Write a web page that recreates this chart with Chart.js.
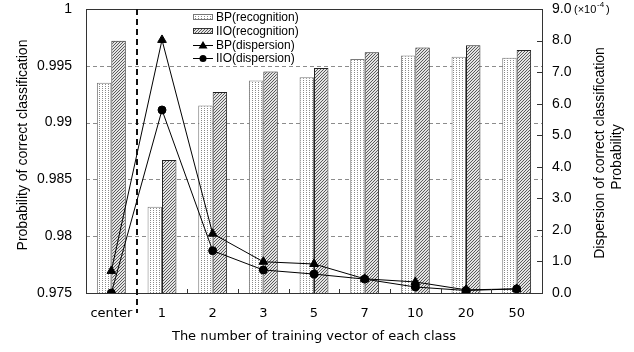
<!DOCTYPE html>
<html><head><meta charset="utf-8">
<script src="https://cdn.jsdelivr.net/npm/chart.js@4"></script>
<style>html,body{margin:0;padding:0;background:#fff;} canvas{display:block}</style>
</head><body>
<canvas id="c" width="634" height="352"></canvas>
<script>
const categories = ['center','1','2','3','5','7','10','20','50'];
const bpRecognition = [0.9935,0.9826,0.9915,0.9937,0.9940,0.9956,0.9959,0.9958,0.9957];
const iioRecognition = [0.9972,0.9867,0.9927,0.9945,0.9948,0.9962,0.9966,0.9968,0.9964];
const bpDispersion = [0.70,8.02,1.88,0.99,0.92,0.45,0.35,0.10,0.13];
const iioDispersion = [0.00,5.80,1.34,0.73,0.60,0.44,0.19,0.08,0.13];
const leftTickLabels = ['0.975','0.98','0.985','0.99','0.995','1'];
const rightTickLabels = ['0.0','1.0','2.0','3.0','4.0','5.0','6.0','7.0','8.0','9.0'];
const legendLabels = ['BP(recognition)','IIO(recognition)','BP(dispersion)','IIO(dispersion)'];
const xTitle = 'The number of training vector of each class';
const leftTitle = 'Probability of correct classification';
const rightTitle = ['Dispersion of correct classification','Probability'];

function makeDots(){
  const c=document.createElement('canvas'); c.width=3; c.height=2;
  const g=c.getContext('2d'); g.fillStyle='#fff'; g.fillRect(0,0,3,2);
  g.fillStyle='#8a8a8a'; g.fillRect(0,0,1,1);
  return g.createPattern(c,'repeat');
}
function makeHatch(){
  const c=document.createElement('canvas'); c.width=3; c.height=3;
  const g=c.getContext('2d'); g.fillStyle='#e4e4e4'; g.fillRect(0,0,3,3);
  g.fillStyle='#5a5a5a'; g.fillRect(0,2,1,1); g.fillRect(1,1,1,1); g.fillRect(2,0,1,1);
  return g.createPattern(c,'repeat');
}
const ctx0=document.getElementById('c').getContext('2d');
const dots=makeDots(), hatch=makeHatch();

const deco={
  id:'deco',
  beforeDatasetsDraw(chart){
    const {ctx,chartArea:a,scales}=chart; const y=scales.y;
    ctx.save(); ctx.strokeStyle='#8c8c8c'; ctx.lineWidth=1; ctx.setLineDash([4,3]);
    [0.98,0.985,0.99,0.995].forEach(v=>{
      const py=Math.round(y.getPixelForValue(v))+0.5;
      ctx.beginPath(); ctx.moveTo(a.left,py); ctx.lineTo(a.right,py); ctx.stroke();
    });
    ctx.restore();
  },
  afterDatasetsDraw(chart){
    const {ctx,chartArea:a,scales}=chart; const x=scales.x, y1=scales.y1;
    ctx.save();
    ctx.strokeStyle='#333'; ctx.lineWidth=1; ctx.setLineDash([]);
    ctx.strokeRect(Math.round(a.left)+0.5,Math.round(a.top)+0.5,Math.round(a.right-a.left),Math.round(a.bottom-a.top));
    for(let i=1;i<categories.length-1;i++){
      const px=Math.round((x.getPixelForValue(i)+x.getPixelForValue(i+1))/2)+0.5;
      ctx.beginPath(); ctx.moveTo(px,a.bottom); ctx.lineTo(px,a.bottom-4); ctx.stroke();
    }
    for(let v=1;v<=8;v++){
      const py=Math.round(y1.getPixelForValue(v))+0.5;
      ctx.beginPath(); ctx.moveTo(a.right,py); ctx.lineTo(a.right-5,py); ctx.stroke();
    }
    const sx=Math.round((x.getPixelForValue(0)+x.getPixelForValue(1))/2);
    ctx.strokeStyle='#111'; ctx.lineWidth=2; ctx.setLineDash([6,4]);
    ctx.beginPath(); ctx.moveTo(sx,a.top); ctx.lineTo(sx,a.bottom+20); ctx.stroke();
    ctx.setLineDash([]);
    const lx=193, rows=[17,31,45,58];
    ctx.font='12px "Liberation Sans", Arial, sans-serif'; ctx.textBaseline='middle'; ctx.textAlign='left';
    ctx.lineWidth=1;
    ctx.fillStyle=dots; ctx.fillRect(lx,rows[0]-3,20,6); ctx.strokeStyle='#777'; ctx.strokeRect(lx+0.5,rows[0]-2.5,19,5);
    ctx.fillStyle=hatch; ctx.fillRect(lx,rows[1]-3,20,6); ctx.strokeStyle='#333'; ctx.strokeRect(lx+0.5,rows[1]-2.5,19,5);
    ctx.strokeStyle='#000';
    [2,3].forEach(r=>{ctx.beginPath();ctx.moveTo(lx,rows[r]+0.5);ctx.lineTo(lx+20,rows[r]+0.5);ctx.stroke();});
    ctx.fillStyle='#000';
    ctx.beginPath(); ctx.moveTo(lx+10,rows[2]-4); ctx.lineTo(lx+14.5,rows[2]+3.5); ctx.lineTo(lx+5.5,rows[2]+3.5); ctx.closePath(); ctx.fill();
    ctx.beginPath(); ctx.arc(lx+10,rows[3]+0.5,3.5,0,Math.PI*2); ctx.fill();
    legendLabels.forEach((t,i)=>ctx.fillText(t,lx+23,rows[i]+1));
    ctx.font='14px "Liberation Sans", Arial, sans-serif'; ctx.textAlign='center';
    ctx.save(); ctx.translate(23,145); ctx.rotate(-Math.PI/2); ctx.fillText(leftTitle,0,0); ctx.restore();
    ctx.save(); ctx.translate(600,153); ctx.rotate(-Math.PI/2); ctx.fillText(rightTitle[0],0,0); ctx.restore();
    ctx.save(); ctx.translate(617,157); ctx.rotate(-Math.PI/2); ctx.fillText(rightTitle[1],0,0); ctx.restore();
    ctx.font='13px "DejaVu Sans", sans-serif';
    ctx.fillText(xTitle,(a.left+a.right)/2,337);
    const ty=y1.getPixelForValue(9);
    ctx.textAlign='left'; ctx.font='11px "Liberation Sans", Arial, sans-serif';
    ctx.fillText('(\u00d710',574,ty+1);
    ctx.font='8px "Liberation Sans", Arial, sans-serif';
    ctx.fillText('-4',597,ty-4);
    ctx.font='11px "Liberation Sans", Arial, sans-serif';
    ctx.fillText(')',606,ty+1);
    ctx.restore();
  }
};

new Chart(ctx0,{
  data:{
    labels:categories,
    datasets:[
      {type:'line',label:legendLabels[2],data:bpDispersion,yAxisID:'y1',borderColor:'#000',borderWidth:1,pointStyle:'triangle',pointRadius:5,pointBackgroundColor:'#000',pointBorderColor:'#000',order:0},
      {type:'line',label:legendLabels[3],data:iioDispersion,yAxisID:'y1',borderColor:'#000',borderWidth:1,pointStyle:'circle',pointRadius:4,pointBackgroundColor:'#000',pointBorderColor:'#000',order:0},
      {type:'bar',label:legendLabels[0],data:bpRecognition,yAxisID:'y',backgroundColor:dots,borderColor:'#7a7a7a',borderWidth:1,order:1},
      {type:'bar',label:legendLabels[1],data:iioRecognition,yAxisID:'y',backgroundColor:hatch,borderColor:'#222',borderWidth:1,order:1}
    ]
  },
  options:{
    responsive:false,animation:false,devicePixelRatio:1,
    layout:{padding:{top:9,right:0,left:0,bottom:0}},
    plugins:{legend:{display:false},tooltip:{enabled:false}},
    datasets:{bar:{categoryPercentage:0.57,barPercentage:1.0}},
    scales:{
      x:{grid:{display:false,drawTicks:false},border:{display:false},
         ticks:{padding:13,color:'#000',font:{family:'"DejaVu Sans", sans-serif',size:13}},
         afterFit(s){s.height=59;s.paddingLeft=0;s.paddingRight=0;}},
      y:{position:'left',min:0.975,max:1,grid:{display:false,drawTicks:false},border:{display:false},
         ticks:{stepSize:0.005,padding:14,color:'#000',font:{family:'"Liberation Sans", Arial, sans-serif',size:14},
           callback:(v,i)=>leftTickLabels[i]},
         afterFit(s){s.width=86;s.paddingTop=0;s.paddingBottom=0;}},
      y1:{position:'right',min:0,max:9,grid:{display:false,drawTicks:false},border:{display:false},
         ticks:{stepSize:1,padding:10,color:'#000',font:{family:'"Liberation Sans", Arial, sans-serif',size:14},
           callback:(v,i)=>rightTickLabels[i]},
         afterFit(s){s.width=92;s.paddingTop=0;s.paddingBottom=0;}}
    }
  },
  plugins:[deco]
});
</script>
</body></html>
